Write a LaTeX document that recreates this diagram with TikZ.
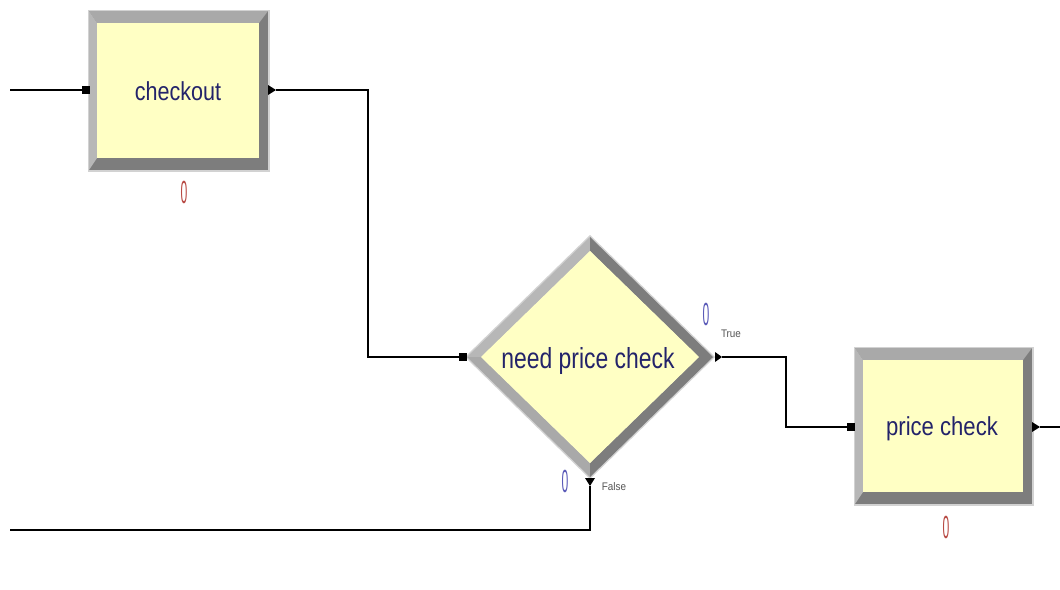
\documentclass[tikz,border=0pt]{standalone}
\usepackage{fontspec}
\setmainfont{Liberation Sans}
\definecolor{boxfill}{HTML}{FFFFC4}
\definecolor{bevtop}{HTML}{A9A9A9}
\definecolor{bevleft}{HTML}{B7B7B7}
\definecolor{bevdark}{HTML}{7D7D7D}
\definecolor{bevedge}{HTML}{D2D2D2}
\definecolor{labelnavy}{HTML}{23236A}
\definecolor{cntred}{HTML}{B84A44}
\definecolor{cntblue}{HTML}{5A5AB8}
\definecolor{smallgray}{HTML}{555555}
\newcommand\arenabox[4]{%
  \fill[bevedge] (#1-1.5,#2-1.5) rectangle (#3+1.5,#4+1.5);
  \fill[bevdark] (#1,#2) rectangle (#3,#4);
  \fill[bevtop] (#1,#2) -- (#3,#2) -- (#3-9,#2+12) -- (#1+8,#2+12) -- cycle;
  \fill[bevleft] (#1,#2) -- (#1+8,#2+12) -- (#1+8,#4-12) -- (#1,#4) -- cycle;
  \fill[boxfill] (#1+8,#2+12) rectangle (#3-9,#4-12);
}
\begin{document}
\begin{tikzpicture}[x=1pt,y=-1pt,
  wire/.style={line width=1.4pt, black},
  inport/.style={rectangle, fill=black, minimum size=8pt, inner sep=0pt},
  boxlabel/.style={text=labelnavy, inner sep=0pt, font=\fontsize{26}{26}\selectfont},
  decilabel/.style={text=labelnavy, inner sep=0pt, font=\fontsize{29}{29}\selectfont},
  smalllabel/.style={text=smallgray, inner sep=0pt, font=\fontsize{11}{11}\selectfont},
  counter/.style={inner sep=0pt, font=\fontsize{32}{32}\selectfont}]
\fill[white] (0,0) rectangle (1060,589);
\useasboundingbox (0,0) rectangle (1060,589);

% checkout box
\arenabox{89}{11}{268}{170}
\node[boxlabel] (checkout) at (178,91) {\scalebox{0.83}[1]{checkout}};
\node[counter, text=cntred] (checkoutCount) at (184,192) {\scalebox{0.38}[1]{0}};
\node[inport] (checkoutIn) at (86,90) {};
\fill (268,85) -- (276,90) -- (268,95) -- cycle;
\coordinate (checkoutOut) at (276,90);

% decision diamond
\fill[bevedge] (465,357) -- (590,235) -- (715,357) -- (590,479) -- cycle;
\fill[bevleft] (467,357) -- (590,237) -- (590,251) -- (481,357) -- cycle;
\fill[bevtop] (467,357) -- (481,357) -- (590,463) -- (590,477) -- cycle;
\fill[bevdark] (590,237) -- (713,357) -- (699,357) -- (590,251) -- cycle;
\fill[bevdark] (713,357) -- (590,477) -- (590,463) -- (699,357) -- cycle;
\fill[boxfill] (481,357) -- (590,251) -- (699,357) -- (590,463) -- cycle;
\node[decilabel] (need) at (588,361) {\scalebox{0.79}[1]{need price check}};
\node[inport] (needIn) at (463,357) {};
\fill (715,352) -- (722,357) -- (715,362) -- cycle;
\coordinate (trueOut) at (722,357);
\fill (585,478) -- (590,486) -- (595,478) -- cycle;
\coordinate (falseOut) at (590,486);
\node[smalllabel] (trueLabel) at (731,334) {\scalebox{0.9}[1]{True}};
\node[smalllabel] (falseLabel) at (614,487) {\scalebox{0.9}[1]{False}};
\node[counter, text=cntblue] (trueCount) at (706,314) {\scalebox{0.38}[1]{0}};
\node[counter, text=cntblue] (falseCount) at (565,481) {\scalebox{0.38}[1]{0}};

% price check box
\arenabox{855}{348}{1032}{504}
\node[boxlabel] (pricecheck) at (942,429) {\scalebox{0.85}[1]{price check}};
\node[counter, text=cntred] (priceCount) at (946,527) {\scalebox{0.38}[1]{0}};
\node[inport] (priceIn) at (851,427) {};
\fill (1032,422) -- (1040,427) -- (1032,432) -- cycle;
\coordinate (priceOut) at (1040,427);

% free ends
\coordinate (startA) at (10,90);
\coordinate (endB) at (10,530);
\coordinate (endC) at (1060,427);

% connectors
\draw[wire] (startA) -- (checkoutIn.west);
\draw[wire] (checkoutOut) -- ++(92,0) |- (needIn.west);
\draw[wire] (trueOut) -- ++(64,0) |- (priceIn.west);
\draw[wire] (falseOut) |- (endB);
\draw[wire] (priceOut) -- (endC);
\end{tikzpicture}
\end{document}
